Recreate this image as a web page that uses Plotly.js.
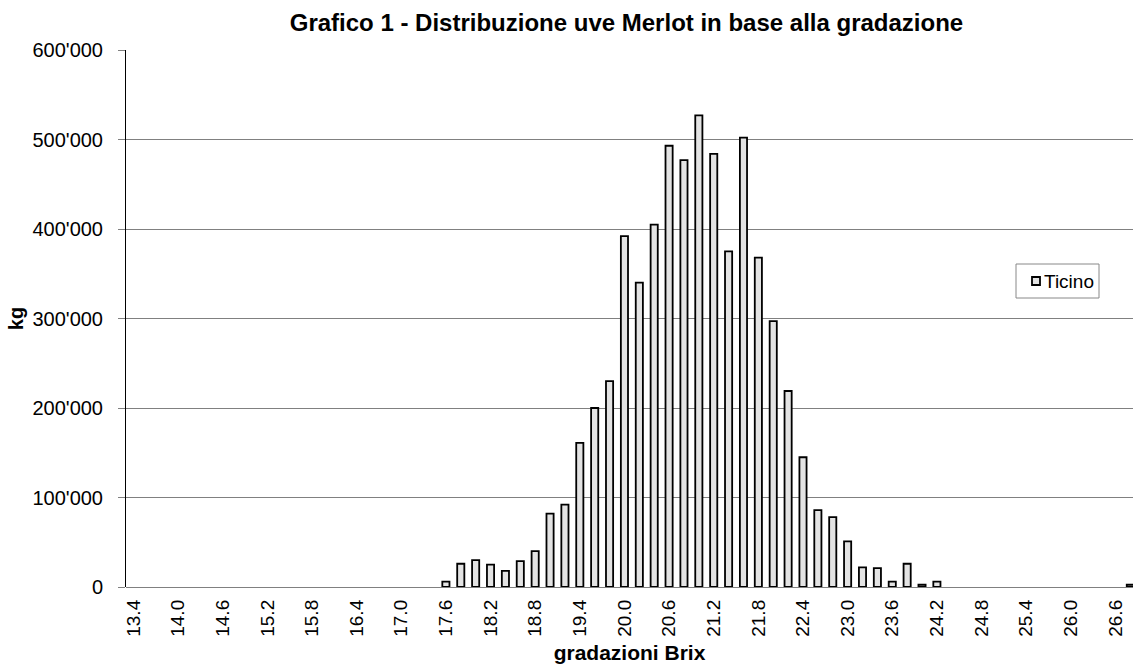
<!DOCTYPE html>
<html>
<head>
<meta charset="utf-8">
<script src="https://cdn.plot.ly/plotly-3.0.1.min.js"></script>
<style>html,body{margin:0;padding:0;background:#fff;}#chart{width:1133px;height:670px;}</style>
</head>
<body>
<div id="chart"></div>
<script>
// Categories: Brix gradations 13.4 .. 26.8 (step 0.2)
const categories = ["13.4","13.6","13.8","14.0","14.2","14.4","14.6","14.8","15.0","15.2","15.4","15.6","15.8","16.0","16.2","16.4","16.6","16.8","17.0","17.2","17.4","17.6","17.8","18.0","18.2","18.4","18.6","18.8","19.0","19.2","19.4","19.6","19.8","20.0","20.2","20.4","20.6","20.8","21.0","21.2","21.4","21.6","21.8","22.0","22.2","22.4","22.6","22.8","23.0","23.2","23.4","23.6","23.8","24.0","24.2","24.4","24.6","24.8","25.0","25.2","25.4","25.6","25.8","26.0","26.2","26.4","26.6","26.8"];
// kg per gradation (null = no grapes delivered)
const ticinoKg = [null,null,null,null,null,null,null,null,null,null,null,null,null,null,null,null,null,null,null,null,null,6000,26000,30000,25000,18000,29000,40000,82000,92000,161000,200000,230000,392000,340000,405000,493000,477000,527000,484000,375000,502000,368000,297000,219000,145000,86000,78000,51000,22000,21000,6000,26000,2500,6000,null,null,null,null,null,null,null,null,null,null,null,null,2500];
const tickLabels = ["13.4","14.0","14.6","15.2","15.8","16.4","17.0","17.6","18.2","18.8","19.4","20.0","20.6","21.2","21.8","22.4","23.0","23.6","24.2","24.8","25.4","26.0","26.6"];
const yTicks = [0,100000,200000,300000,400000,500000,600000];
const seriesName = 'Ticino';

const fillColor = '#e3e3e3';

const trace = {
  type: 'bar',
  name: seriesName,
  x: categories,
  y: ticinoKg,
  marker: {color: fillColor, line: {color: '#000000', width: 1.8}},
  showlegend: false
};

// legend box (drawn as shapes + annotation to match the compact original legend)
const px = (x) => (x - 126) / 1007;
const py = (y) => (587 - y) / 537;

const layout = {
  width: 1133, height: 670,
  margin: {l: 126, r: 0, t: 50, b: 83, pad: 0},
  paper_bgcolor: '#ffffff', plot_bgcolor: '#ffffff',
  separators: ".'",
  font: {family: 'Liberation Sans, Arial, sans-serif', size: 19, color: '#000'},
  bargap: 0.52,
  showlegend: false,
  title: {
    text: '<b>Grafico 1 - Distribuzione uve Merlot in base alla gradazione</b>',
    font: {size: 24, color: '#000'},
    x: 0.497, xanchor: 'center', xref: 'paper',
    y: 1 - 23/670, yanchor: 'middle', yref: 'container'
  },
  xaxis: {
    type: 'category',
    range: [-0.5, 67.18],
    tickmode: 'array', tickvals: tickLabels, ticktext: tickLabels,
    tickangle: -90,
    ticks: '', showgrid: false, zeroline: false,
    showline: false,
    ticklabelstandoff: 8,
    tickfont: {size: 19},
    title: {text: '<b>gradazioni Brix</b>', font: {size: 21}, standoff: 9}
  },
  yaxis: {
    range: [0, 600000],
    tickvals: yTicks,
    tickformat: ',d',
    showgrid: true, gridcolor: '#808080', gridwidth: 1,
    zeroline: true, zerolinecolor: '#808080', zerolinewidth: 1,
    showline: true, linecolor: '#000', linewidth: 1,
    ticks: 'outside', ticklen: 7, tickcolor: '#808080',
    ticklabelstandoff: 11,
    tickfont: {size: 20},
    title: {text: '<b>kg</b>', font: {size: 20}, standoff: 3}
  },
  shapes: [
    {type: 'rect', xref: 'paper', yref: 'paper', layer: 'above',
     x0: px(1016), x1: px(1099), y0: py(298), y1: py(264),
     line: {color: '#888888', width: 1}, fillcolor: '#ffffff'},
    {type: 'rect', xref: 'paper', yref: 'paper', layer: 'above',
     x0: px(1032), x1: px(1040), y0: py(285), y1: py(277),
     line: {color: '#000000', width: 1.8}, fillcolor: fillColor}
  ],
  annotations: [
    {xref: 'paper', yref: 'paper', x: px(1042), y: py(281),
     xanchor: 'left', yanchor: 'middle', showarrow: false,
     text: seriesName, font: {size: 19, color: '#000'}}
  ]
};

Plotly.newPlot('chart', [trace], layout, {displayModeBar: false, staticPlot: true});
</script>
</body>
</html>
